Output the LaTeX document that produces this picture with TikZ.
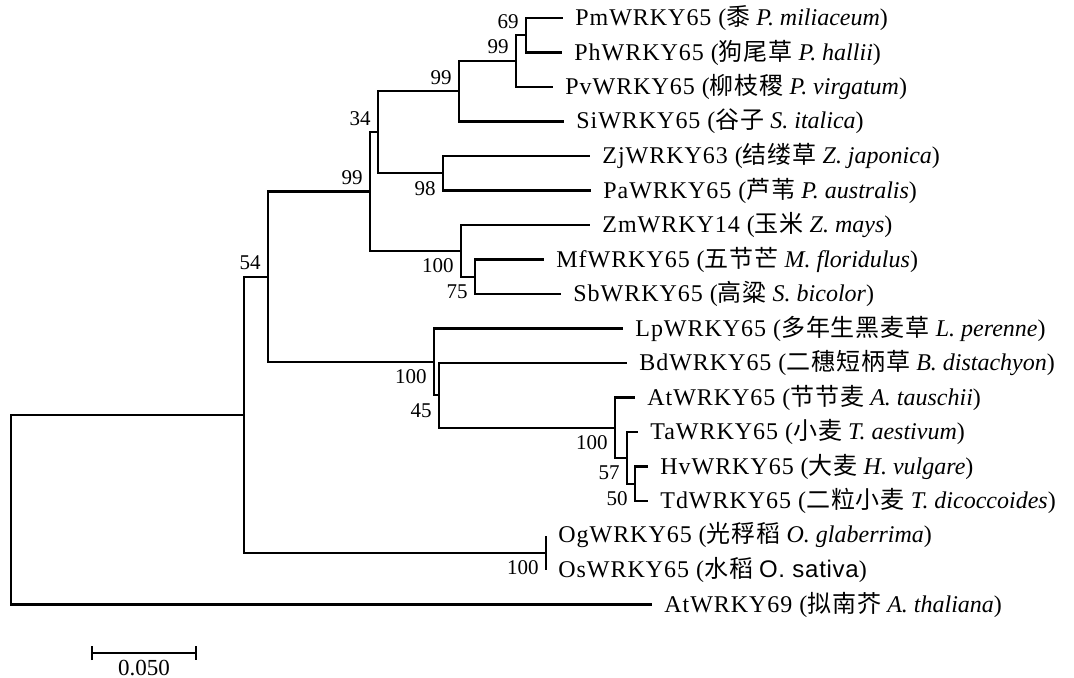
\documentclass[tikz,border=0pt]{standalone}
\usepackage{fontspec}
\usetikzlibrary{arrows.meta}
\setmainfont{Liberation Serif}
\newfontfamily\spfont{Liberation Serif}[LetterSpace=4]
\newfontfamily\cjk{Noto Sans CJK SC}[LetterSpace=4]
\newfontfamily\sansfont{Liberation Sans}[LetterSpace=3]
\newcommand{\taxon}[3]{{\spfont #1 (}{\cjk #2} \textit{#3})}
\tikzset{
  branch/.style={line width=1.1pt},
  lab/.style={anchor=west,inner sep=0pt,xshift=6pt,font=\fontsize{12}{14}\selectfont},
  bsup/.style={anchor=east,inner sep=0pt,xshift=-3.5pt,yshift=7pt,font=\fontsize{10.5}{12}\selectfont},
  bsdown/.style={anchor=east,inner sep=0pt,xshift=-3.5pt,yshift=-7.5pt,font=\fontsize{10.5}{12}\selectfont}
}
\begin{document}
\begin{tikzpicture}[x=0.5pt,y=-0.5pt]
	\useasboundingbox (0,0) rectangle (1074,678);
	% internal nodes
	\foreach \n/\x/\y in {n69/526/35.25,n99d/516/61.1,n99c/459/91.3,n98/443/173.25,n34/378/132.3,
		n75/475/276.75,n100z/461/250.9,n99b/370/191.6,n50/635/483.75,n57/627/457.9,n100t/615/427.7,
		n45/439/395.3,n100l/434/361.9,n99a/268/276.8,n100o/546/552.75,n54/244/414.8,root/11/509.6}
		\coordinate (\n) at (\x,\y);
	% leaves
	\foreach \n/\x/\y/\g/\c/\s in {pm/563/18/PmWRKY65/黍/P. miliaceum,ph/562/52.5/PhWRKY65/狗尾草/P. hallii,
		pv/553/87/PvWRKY65/柳枝稷/P. virgatum,si/564/121.5/SiWRKY65/谷子/S. italica,
		zj/590/156/ZjWRKY63/结缕草/Z. japonica,pa/591/190.5/PaWRKY65/芦苇/P. australis,
		zm/590/225/ZmWRKY14/玉米/Z. mays,mf/544/259.5/MfWRKY65/五节芒/M. floridulus,
		sb/561/294/SbWRKY65/高粱/S. bicolor,lp/623/328.5/LpWRKY65/多年生黑麦草/L. perenne,
		bd/627/363/BdWRKY65/二穗短柄草/B. distachyon,at/635/397.5/AtWRKY65/节节麦/A. tauschii,
		ta/638/432/TaWRKY65/小麦/T. aestivum,hv/648/466.5/HvWRKY65/大麦/H. vulgare,
		td/648/501/TdWRKY65/二粒小麦/T. dicoccoides,og/546/535.5/OgWRKY65/光稃稻/O. glaberrima,
		ath/652/604.5/AtWRKY69/拟南芥/A. thaliana}
		{\coordinate (\n) at (\x,\y);
		\node[lab] (t\n) at (\n) {\taxon{\g}{\c}{\s}};}
	\coordinate (os) at (546,570);
	\node[lab] (tos) at (os) {{\spfont OsWRKY65 (}{\cjk 水稻} {\sansfont O. sativa})};
	% branches
	\foreach \a/\b in {root/n54,root/ath,n54/n99a,n54/n100o,n99a/n99b,n99a/n100l,n99b/n34,n99b/n100z,
		n34/n99c,n34/n98,n99c/n99d,n99c/si,n99d/n69,n99d/pv,n69/pm,n69/ph,n98/zj,n98/pa,
		n100z/zm,n100z/n75,n75/mf,n75/sb,n100l/lp,n100l/n45,n45/bd,n45/n100t,n100t/at,n100t/n57,
		n57/ta,n57/n50,n50/hv,n50/td,n100o/og,n100o/os}
		\draw[branch] (\a) |- (\b);
	% bootstrap values
	\foreach \n/\v in {n69/69,n99d/99,n99c/99,n34/34,n99b/99,n99a/54}
		\node[bsup] (b\n) at (\n) {\v};
	\foreach \n/\v in {n98/98,n100z/100,n75/75,n100l/100,n45/45,n100t/100,n57/57,n50/50,n100o/100}
		\node[bsdown] (b\n) at (\n) {\v};
	% scale bar
	\coordinate (sbl) at (91,653);
	\coordinate (sbr) at (197,653);
	\draw[line width=1.1pt,{Bar[width=7pt]}-{Bar[width=7pt]}] (sbl) -- (sbr);
	\node[anchor=north,inner sep=0pt,font=\fontsize{11.5}{12}\selectfont] (sblab) at (144,660) {0.050};
\end{tikzpicture}
\end{document}
